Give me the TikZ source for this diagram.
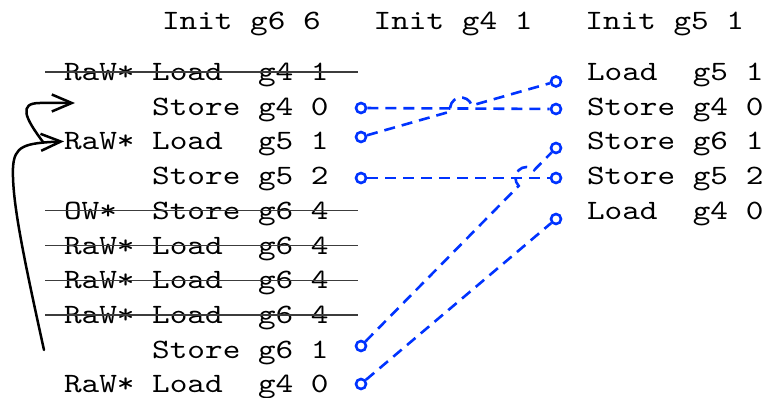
\documentclass[tikz,border=0pt]{standalone}
\usepackage{fontspec}
\usepackage{tikz}
\usetikzlibrary{positioning,arrows.meta,calc}
\newfontfamily\codefont[FakeStretch=1.2]{lmmono10-regular.otf}
\definecolor{linkblue}{RGB}{0,51,255}
\definecolor{strikegray}{RGB}{60,60,60}

\begin{document}
\begin{tikzpicture}[
    x=1pt, y=-1pt,
    node distance=0pt,
    row/.style={font=\fontsize{28}{34}\selectfont\codefont, inner sep=0pt, outer sep=0pt, text height=25.9pt, text depth=8.8pt},
    port/.style={circle, draw=linkblue, line width=2.6pt, minimum size=10pt, inner sep=0pt},
    link/.style={linkblue, line width=2.6pt, dash pattern=on 11pt off 7pt},
    strike/.style={strikegray, line width=1.3pt},
    move/.style={-{Straight Barb[length=20pt, width=17pt]}, line width=2.5pt, line cap=round}
]
\useasboundingbox (0,0) rectangle (766,398);

% ===== HEADER =====
\node[row, anchor=west] (head) at (162,21) {Init~g6~6~~~Init~g4~1~~~Init~g5~1};

% ===== LEFT SEQUENCE =====
\node[row, anchor=west] (r0) at (64,72) {RaW*~Load~~g4~1};
\node[row, below=of r0] (r1) {~~~~~Store~g4~0};
\node[row, below=of r1] (r2) {RaW*~Load~~g5~1};
\node[row, below=of r2] (r3) {~~~~~Store~g5~2};
\node[row, below=of r3] (r4) {OW*~~Store~g6~4};
\node[row, below=of r4] (r5) {RaW*~Load~~g6~4};
\node[row, below=of r5] (r6) {RaW*~Load~~g6~4};
\node[row, below=of r6] (r7) {RaW*~Load~~g6~4};
\node[row, below=of r7] (r8) {~~~~~Store~g6~1};
\node[row, below=of r8] (r9) {RaW*~Load~~g4~0};

% ===== RIGHT SEQUENCE =====
\node[row, anchor=west] (s0) at (587,72) {Load~~g5~1};
\node[row, below=of s0] (s1) {Store~g4~0};
\node[row, below=of s1] (s2) {Store~g6~1};
\node[row, below=of s2] (s3) {Store~g5~2};
\node[row, below=of s3] (s4) {Load~~g4~0};

% ===== STRUCK OUT =====
\draw[strike] ([xshift=-19pt]r0.west) -- ([xshift=29pt]r0.east);
\draw[strike] ([xshift=-19pt]r4.west) -- ([xshift=29pt]r4.east);
\draw[strike] ([xshift=-19pt]r5.west) -- ([xshift=29pt]r5.east);
\draw[strike] ([xshift=-19pt]r6.west) -- ([xshift=29pt]r6.east);
\draw[strike] ([xshift=-19pt]r7.west) -- ([xshift=29pt]r7.east);

% ===== PORTS =====
\node[port] (pS40) at (361,108) {};
\node[port] (pL51) at (361,137) {};
\node[port] (pS52) at (361,178) {};
\node[port] (pS61) at (361,346) {};
\node[port] (pL40) at (361,384) {};

\node[port] (qL51) at (556,81.5) {};
\node[port] (qS40) at (556,109) {};
\node[port] (qS61) at (556,148) {};
\node[port] (qS52) at (556,178) {};
\node[port] (qL40) at (556,219) {};

% ===== LINKS =====
\draw[link] (pS40) -- (qS40);
\draw[link] (pL51) -- ($(pL51)!0.4593!(qL51)$) arc[start angle=195.9, end angle=15.9, radius=11pt] -- (qL51);
\draw[link] (pS52) -- (qS52);
\draw[link] (pS61) -- ($(pS61)!0.8089!(qS61)$) arc[start angle=225.4, end angle=45.4, radius=11pt] -- (qS61);
\draw[link] (pL40) -- (qL40);

% ===== MOVES =====
\coordinate (lowstart) at (44,350);
\coordinate (upstart) at (43,142);
\coordinate (upend) at (75,103);
\draw[move] (lowstart) .. controls (22,250) and (12,200) .. (13,168) .. controls (14,146) and (24,143) .. (r2.west);
\draw[move] (upstart) .. controls (25,118) and (18,103) .. (40,103) -- (upend);

\end{tikzpicture}
\end{document}
